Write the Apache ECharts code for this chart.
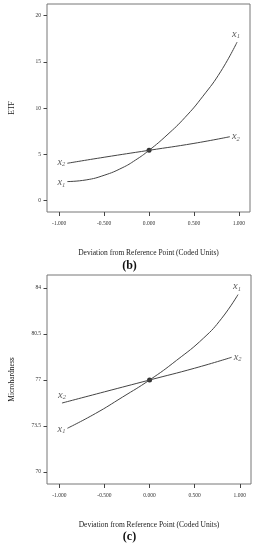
<!DOCTYPE html>
<html><head><meta charset="utf-8">
<script src="https://cdn.jsdelivr.net/npm/echarts@6/dist/echarts.min.js"></script>
<style>html,body{margin:0;padding:0;background:#fff}#c{width:259px;height:550px}</style>
</head><body><div id="c"></div>
<script>
// ---- data ----
var xTicks = [-1, -0.5, 0, 0.5, 1];
var etfTicks = [0, 5, 10, 15, 20];
var mhTicks = [70, 73.5, 77, 80.5, 84];

var etfX1x = [-0.91, -0.7, -0.5, -0.3, -0.15, 0, 0.2, 0.4, 0.6, 0.8, 0.98];
var etfX1y = [2.07, 2.25, 2.75, 3.55, 4.4, 5.45, 7.1, 9.0, 11.3, 14.0, 17.15];
var etfX2x = [-0.91, -0.5, 0, 0.5, 0.9];
var etfX2y = [4.05, 4.7, 5.45, 6.2, 6.92];
var etfRef = [0, 5.45];

var mhX1x = [-0.91, -0.6, -0.3, 0, 0.3, 0.6, 0.8, 0.98];
var mhX1y = [73.33, 74.45, 75.7, 77.0, 78.5, 80.2, 81.7, 83.5];
var mhX2x = [-0.97, -0.5, 0, 0.5, 0.91];
var mhX2y = [75.25, 76.1, 77.0, 77.9, 78.73];
var mhRef = [0, 77.0];

var xTitle = 'Deviation from Reference Point (Coded Units)';

// ---- build ----
var serif = 'Liberation Serif';
var lineColor = '#444';
var rich = {
  a: {fontFamily: serif, fontStyle: 'italic', fontSize: 10.5, color: '#333'},
  b: {fontFamily: serif, fontStyle: 'italic', fontSize: 6.5, color: '#333', padding: [5, 0, 0, 0]}
};
function pts(xs, ys, startLab, endLab) {
  return xs.map(function (x, i) {
    var item = {value: [x, ys[i]]};
    if (i === 0 && startLab) item.label = Object.assign({show: true}, startLab);
    if (i === xs.length - 1 && endLab) item.label = Object.assign({show: true}, endLab);
    return item;
  });
}
function lab(n, pos, off) {
  return {position: pos, offset: off || [0, 0], formatter: '{a|x}{b|' + n + '}', rich: rich, distance: 2};
}
function lineSeries(xi, yi, data) {
  return {type: 'line', xAxisIndex: xi, yAxisIndex: yi, data: data, smooth: true, showSymbol: false,
    symbol: 'none', lineStyle: {color: lineColor, width: 1}, label: {show: false}, animation: false, silent: true,
    emphasis: {disabled: true}};
}
function labelsOnly(xi, yi, data) {
  return {type: 'scatter', xAxisIndex: xi, yAxisIndex: yi, data: data, symbolSize: 0.01,
    itemStyle: {color: 'transparent'}, animation: false, silent: true};
}
function xAxis(gi) {
  return {type: 'value', gridIndex: gi, min: -1.136, max: 1.124, position: 'bottom',
    axisLine: {show: false, onZero: false}, splitLine: {show: false},
    axisTick: {show: true, customValues: xTicks, length: 4, lineStyle: {color: '#444'}},
    axisLabel: {customValues: xTicks, fontSize: 5.5, fontFamily: serif, color: '#333', margin: 9,
      formatter: function (v) { return v.toFixed(3); }},
    name: xTitle, nameLocation: 'middle', nameGap: 37,
    nameTextStyle: {fontFamily: serif, fontSize: 7.5, color: '#222'}};
}
function yAxis(gi, mn, mx, ticks, name, gap) {
  return {type: 'value', gridIndex: gi, min: mn, max: mx, position: 'left',
    axisLine: {show: false, onZero: false}, splitLine: {show: false},
    axisTick: {show: true, customValues: ticks, length: 3.5, lineStyle: {color: '#444'}},
    axisLabel: {customValues: ticks, fontSize: 5.5, fontFamily: serif, color: '#333', margin: 6},
    name: name, nameLocation: 'middle', nameGap: gap, nameRotate: 90,
    nameTextStyle: {fontFamily: serif, fontSize: 7.5, color: '#222'}};
}

var option = {
  backgroundColor: '#fff',
  animation: false,
  grid: [
    {left: 45, top: 4, width: 205, height: 208, show: true, borderColor: '#777', borderWidth: 1, backgroundColor: 'transparent'},
    {left: 46, top: 275, width: 205, height: 209, show: true, borderColor: '#777', borderWidth: 1, backgroundColor: 'transparent'}
  ],
  xAxis: [xAxis(0), xAxis(1)],
  yAxis: [yAxis(0, -1.22, 21.27, etfTicks, 'ETF', 31), yAxis(1, 69.09, 84.99, mhTicks, 'Microhardness', 31)],
  series: [
    lineSeries(0, 0, pts(etfX1x, etfX1y)),
    lineSeries(0, 0, pts(etfX2x, etfX2y)),
    labelsOnly(0, 0, pts(etfX1x, etfX1y, lab(1, 'left', [0, 1]), lab(1, 'top', [-1, 0]))),
    labelsOnly(0, 0, pts(etfX2x, etfX2y, lab(2, 'left', [0, -1]), lab(2, 'right', [0, 0]))),
    {type: 'scatter', xAxisIndex: 0, yAxisIndex: 0, data: [etfRef], symbolSize: 5, itemStyle: {color: '#000'}, silent: true},
    lineSeries(1, 1, pts(mhX1x, mhX1y)),
    lineSeries(1, 1, pts(mhX2x, mhX2y)),
    labelsOnly(1, 1, pts(mhX1x, mhX1y, lab(1, 'left', [0, 1]), lab(1, 'top', [-1, 0]))),
    labelsOnly(1, 1, pts(mhX2x, mhX2y, lab(2, 'top', [0, 0]), lab(2, 'right', [0, 0]))),
    {type: 'scatter', xAxisIndex: 1, yAxisIndex: 1, data: [mhRef], symbolSize: 5, itemStyle: {color: '#000'}, silent: true}
  ],
  graphic: [
    {type: 'text', left: 'center', top: 260, style: {text: '(b)', font: 'bold 12px "Liberation Serif"', fill: '#111'}},
    {type: 'text', left: 'center', top: 531, style: {text: '(c)', font: 'bold 12px "Liberation Serif"', fill: '#111'}}
  ]
};
var chart = echarts.init(document.getElementById('c'), null, {renderer: 'canvas'});
chart.setOption(option);
</script></body></html>
